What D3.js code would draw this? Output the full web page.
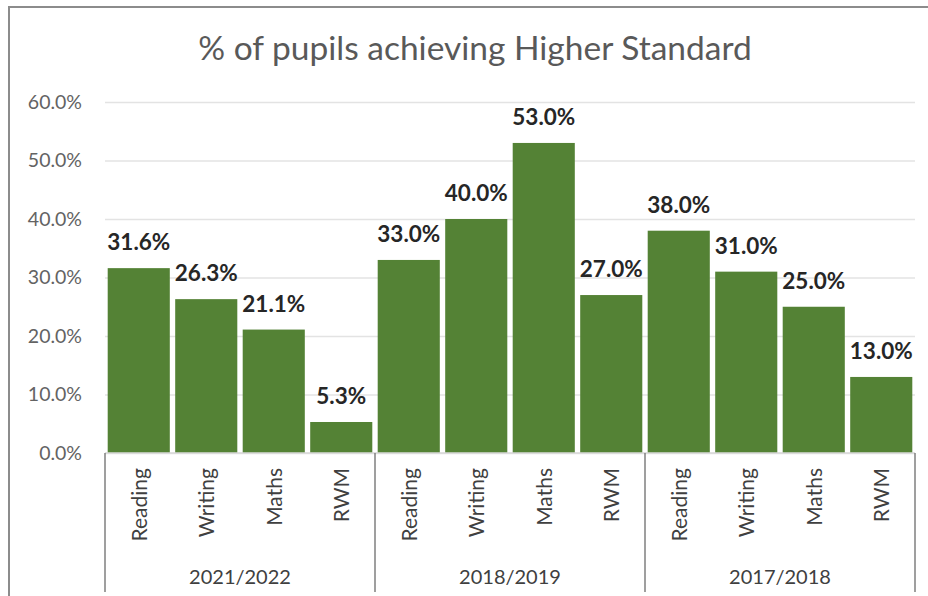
<!DOCTYPE html>
<html>
<head>
<meta charset="utf-8">
<script src="https://cdn.jsdelivr.net/npm/d3@7"></script>
<style>
  body { margin: 0; background: #fff; }
  svg { display: block; font-family: Lato, "Open Sans", sans-serif; }
</style>
</head>
<body>
<div id="chart"></div>
<script>
// chart data
var years = ["2021/2022", "2018/2019", "2017/2018"];
var subjects = ["Reading", "Writing", "Maths", "RWM"];
var values2122 = [31.6, 26.3, 21.1, 5.3];
var values1819 = [33.0, 40.0, 53.0, 27.0];
var values1718 = [38.0, 31.0, 25.0, 13.0];
var yTicks = [0, 10, 20, 30, 40, 50, 60];

var seriesByYear = [values2122, values1819, values1718];
var rows = [];
years.forEach(function(yr, i) {
  subjects.forEach(function(s, j) {
    rows.push({year: yr, subject: s, key: yr + "|" + s, value: seriesByYear[i][j]});
  });
});

var width = 928, height = 596;
var margin = {top: 102, left: 105, right: 13, bottom: 143};
var plotW = width - margin.left - margin.right,
    plotH = height - margin.top - margin.bottom;

var svg = d3.select("#chart")
  .append("svg")
    .attr("width", width)
    .attr("height", height);

// outer frame (only top and left edges visible)
svg.append("path")
  .attr("d", "M9,596V7H928")
  .attr("fill", "none")
  .attr("stroke", "#8c8c8c")
  .attr("stroke-width", 2);

svg.append("text")
  .text("% of pupils achieving Higher Standard")
  .attr("x", 475)
  .attr("y", 60)
  .style("text-anchor", "middle")
  .style("font-size", "33.5px")
  .style("fill", "#595959");

var g = svg.append("g")
  .attr("transform", "translate(" + margin.left + "," + margin.top + ")");

var y = d3.scaleLinear()
  .domain([0, 60])
  .range([plotH, 0]);

var xGroup = d3.scaleBand()
  .domain(years)
  .range([0, plotW]);

var x = d3.scaleBand()
  .domain(rows.map(function(d) { return d.key; }))
  .range([0, plotW])
  .paddingInner(0.08)
  .paddingOuter(0.04);

// gridlines + y labels
var yAxis = g.append("g")
  .call(d3.axisLeft(y)
    .tickValues(yTicks)
    .tickSize(-plotW)
    .tickPadding(23)
    .tickFormat(function(d) { return d.toFixed(1) + "%"; }));
yAxis.select(".domain").remove();
yAxis.selectAll(".tick line")
  .attr("stroke", "#e3e3e3")
  .attr("stroke-width", 1.5);
yAxis.selectAll(".tick text")
  .style("font-family", "Lato, sans-serif")
  .style("font-size", "19.5px")
  .style("fill", "#636363");

// bars
g.selectAll(".bar")
  .data(rows)
  .enter().append("rect")
    .attr("class", "bar")
    .attr("x", function(d) { return x(d.key); })
    .attr("width", x.bandwidth())
    .attr("y", function(d) { return y(d.value); })
    .attr("height", function(d) { return plotH - y(d.value); })
    .attr("fill", "#548235");

// value labels
g.selectAll(".val")
  .data(rows)
  .enter().append("text")
    .attr("class", "val")
    .text(function(d) { return d.value.toFixed(1) + "%"; })
    .attr("x", function(d) { return x(d.key) + x.bandwidth() / 2; })
    .attr("y", function(d) { return y(d.value) - 18; })
    .style("text-anchor", "middle")
    .style("font-size", "22.5px")
    .style("font-weight", "bold")
    .style("fill", "#262626");

// category axis: separators, rotated subject labels, year labels
var cat = g.append("g")
  .attr("transform", "translate(0," + plotH + ")");

cat.append("line")
  .attr("x1", 0).attr("x2", plotW)
  .attr("stroke", "#d9d9d9")
  .attr("stroke-width", 1.5);

var seps = [0].concat(years.map(function(yr) { return xGroup(yr) + xGroup.bandwidth(); }));
cat.selectAll(".sep")
  .data(seps)
  .enter().append("line")
    .attr("class", "sep")
    .attr("x1", function(d) { return d; })
    .attr("x2", function(d) { return d; })
    .attr("y1", 0)
    .attr("y2", 139)
    .attr("stroke", "#7f7f7f")
    .attr("stroke-width", 1.5);

cat.selectAll(".subj")
  .data(rows)
  .enter().append("text")
    .attr("class", "subj")
    .text(function(d) { return d.subject; })
    .attr("transform", function(d) {
      return "translate(" + (x(d.key) + x.bandwidth() / 2 + 8) + ",15) rotate(-90)";
    })
    .style("text-anchor", "end")
    .style("font-size", "21px")
    .style("fill", "#404040");

cat.selectAll(".yr")
  .data(years)
  .enter().append("text")
    .attr("class", "yr")
    .text(function(d) { return d; })
    .attr("x", function(d) { return xGroup(d) + xGroup.bandwidth() / 2; })
    .attr("y", 131)
    .style("text-anchor", "middle")
    .style("font-size", "20px")
    .style("fill", "#404040");
</script>
</body>
</html>
